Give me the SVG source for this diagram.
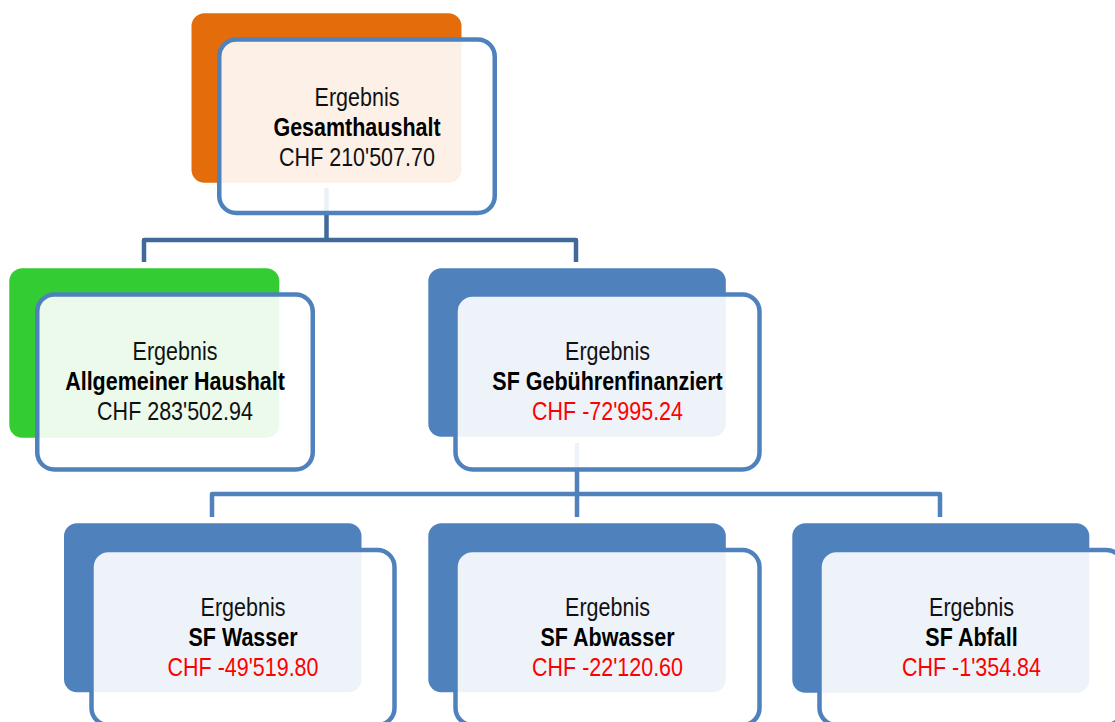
<svg xmlns="http://www.w3.org/2000/svg" width="1115" height="722" viewBox="0 0 1115 722">
<style>
.back{stroke:none}
.front{fill:#ffffff;fill-opacity:0.9;stroke:#4f81bd;stroke-width:4.5}
.conn{fill:none;stroke-width:4.5;stroke-linejoin:round}
text{font-family:"Liberation Sans",Arial,sans-serif;font-size:25px;text-anchor:middle;fill:#111111}
.b{font-weight:bold;fill:#000000}
.neg{fill:#ff0000}
</style>
<g id="connectors">
<path class="conn" stroke="#41699b" d="M326.5 188 V240 M144 262 V240 H576 V262"/>
<path class="conn" stroke="#4f81bd" d="M577 443 V517 M212 517 V494 H940 V517"/>
</g>
<g id="node-gesamt">
<rect class="back" x="191.5" y="13.3" width="270" height="169.5" rx="13" fill="#e46c0a"/>
<rect class="front" x="219.25" y="39.5" width="275.5" height="173.5" rx="17"/>
<g transform="translate(357 0) scale(0.86 1)">
<text x="0" y="106">Ergebnis</text>
<text class="b" x="0" y="136">Gesamthaushalt</text>
<text x="0" y="166">CHF 210'507.70</text>
</g>
</g>
<g id="node-allgemein">
<rect class="back" x="9.3" y="268.3" width="270" height="169.5" rx="13" fill="#33cc33"/>
<rect class="front" x="37.25" y="294.5" width="275.5" height="175" rx="17"/>
<g transform="translate(175 0) scale(0.86 1)">
<text x="0" y="360">Ergebnis</text>
<text class="b" x="0" y="390">Allgemeiner Haushalt</text>
<text x="0" y="420">CHF 283'502.94</text>
</g>
</g>
<g id="node-sf">
<rect class="back" x="428.3" y="268.3" width="297.5" height="168.5" rx="13" fill="#4f81bd"/>
<rect class="front" x="455.5" y="294.5" width="304" height="175" rx="17"/>
<g transform="translate(607.5 0) scale(0.86 1)">
<text x="0" y="360">Ergebnis</text>
<text class="b" x="0" y="390">SF Gebührenfinanziert</text>
<text class="neg" x="0" y="420">CHF -72'995.24</text>
</g>
</g>
<g id="node-wasser">
<rect class="back" x="64" y="523.3" width="297.5" height="169" rx="13" fill="#4f81bd"/>
<rect class="front" x="91.5" y="550" width="303" height="175" rx="17"/>
<g transform="translate(243 0) scale(0.86 1)">
<text x="0" y="616">Ergebnis</text>
<text class="b" x="0" y="646">SF Wasser</text>
<text class="neg" x="0" y="676">CHF -49'519.80</text>
</g>
</g>
<g id="node-abwasser">
<rect class="back" x="428.3" y="523.3" width="297.5" height="169" rx="13" fill="#4f81bd"/>
<rect class="front" x="455.5" y="550" width="304" height="175" rx="17"/>
<g transform="translate(607.5 0) scale(0.86 1)">
<text x="0" y="616">Ergebnis</text>
<text class="b" x="0" y="646">SF Abwasser</text>
<text class="neg" x="0" y="676">CHF -22'120.60</text>
</g>
</g>
<g id="node-abfall">
<rect class="back" x="792.3" y="523.3" width="297" height="169.5" rx="13" fill="#4f81bd"/>
<rect class="front" x="819.5" y="550" width="304" height="175" rx="17"/>
<g transform="translate(971.5 0) scale(0.86 1)">
<text x="0" y="616">Ergebnis</text>
<text class="b" x="0" y="646">SF Abfall</text>
<text class="neg" x="0" y="676">CHF -1'354.84</text>
</g>
</g>
</svg>
